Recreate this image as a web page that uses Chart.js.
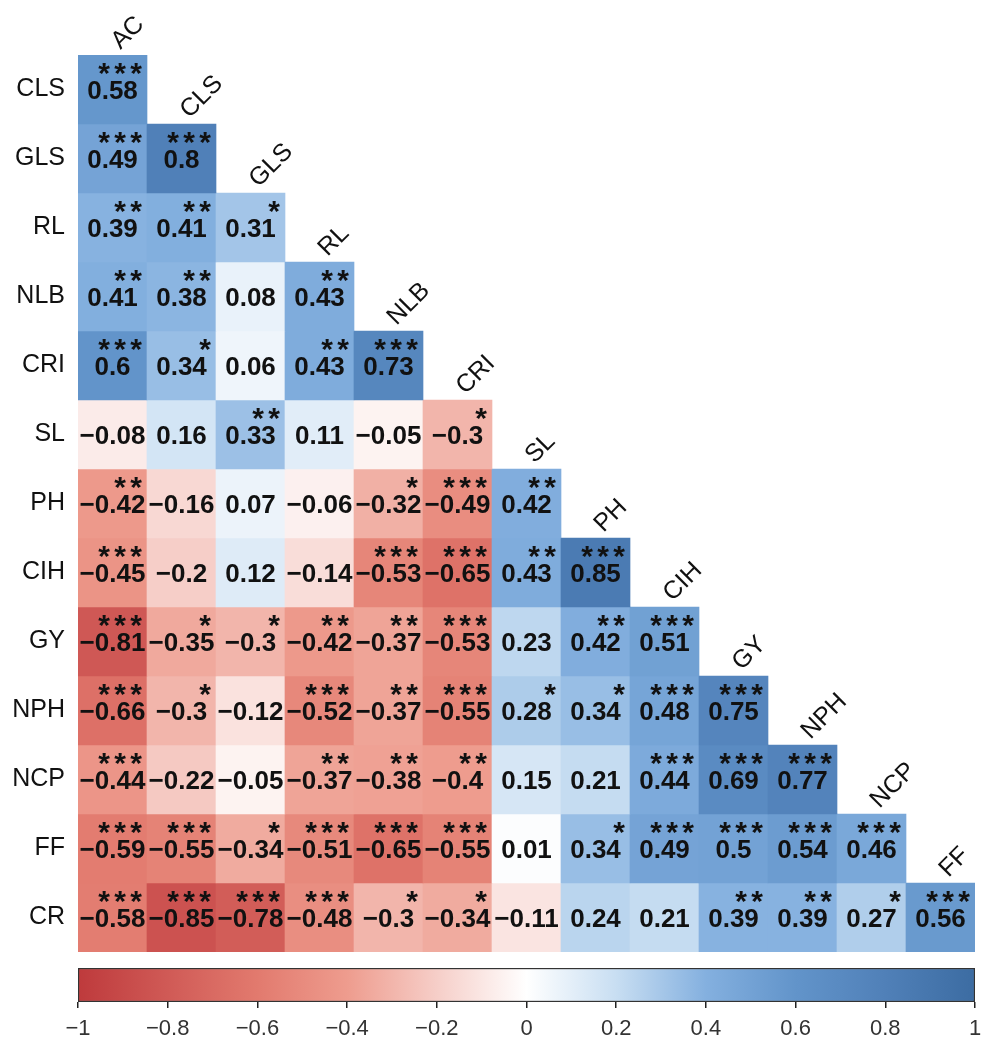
<!DOCTYPE html>
<html>
<head>
<meta charset="utf-8">
<title>Trait correlation heatmap</title>
<script src="https://cdn.jsdelivr.net/npm/chart.js@4.4.1/dist/chart.umd.min.js"></script>
<style>
  body { margin: 0; background: #fff; position: relative; }
  canvas { display: block; }
  #colorbar { position: absolute; left: 0; top: 955px; }
</style>
</head>
<body>
<canvas id="heatmap" width="982" height="1041"></canvas>
<canvas id="colorbar" width="982" height="86"></canvas>
<script>
// traits along the top (columns) and down the left side (rows)
const colLabels = ['AC', 'CLS', 'GLS', 'RL', 'NLB', 'CRI', 'SL', 'PH', 'CIH', 'GY', 'NPH', 'NCP', 'FF'];
const rowLabels = ['CLS', 'GLS', 'RL', 'NLB', 'CRI', 'SL', 'PH', 'CIH', 'GY', 'NPH', 'NCP', 'FF', 'CR'];

// lower triangle of the correlation matrix, one array per row
const corr = [
    [0.58],
    [0.49, 0.8],
    [0.39, 0.41, 0.31],
    [0.41, 0.38, 0.08, 0.43],
    [0.6, 0.34, 0.06, 0.43, 0.73],
    [-0.08, 0.16, 0.33, 0.11, -0.05, -0.3],
    [-0.42, -0.16, 0.07, -0.06, -0.32, -0.49, 0.42],
    [-0.45, -0.2, 0.12, -0.14, -0.53, -0.65, 0.43, 0.85],
    [-0.81, -0.35, -0.3, -0.42, -0.37, -0.53, 0.23, 0.42, 0.51],
    [-0.66, -0.3, -0.12, -0.52, -0.37, -0.55, 0.28, 0.34, 0.48, 0.75],
    [-0.44, -0.22, -0.05, -0.37, -0.38, -0.4, 0.15, 0.21, 0.44, 0.69, 0.77],
    [-0.59, -0.55, -0.34, -0.51, -0.65, -0.55, 0.01, 0.34, 0.49, 0.5, 0.54, 0.46],
    [-0.58, -0.85, -0.78, -0.48, -0.3, -0.34, -0.11, 0.24, 0.21, 0.39, 0.39, 0.27, 0.56]
];

// significance marks, same shape as corr
const stars = [
    ['***'],
    ['***', '***'],
    ['**', '**', '*'],
    ['**', '**', '', '**'],
    ['***', '*', '', '**', '***'],
    ['', '', '**', '', '', '*'],
    ['**', '', '', '', '*', '***', '**'],
    ['***', '', '', '', '***', '***', '**', '***'],
    ['***', '*', '*', '**', '**', '***', '', '**', '***'],
    ['***', '*', '', '***', '**', '***', '*', '*', '***', '***'],
    ['***', '', '', '**', '**', '**', '', '', '***', '***', '***'],
    ['***', '***', '*', '***', '***', '***', '', '*', '***', '***', '***', '***'],
    ['***', '***', '***', '***', '*', '*', '', '', '', '**', '**', '*', '***']
];

const colorbarTicks = [-1, -0.8, -0.6, -0.4, -0.2, 0, 0.2, 0.4, 0.6, 0.8, 1];

// red - white - blue scale
const palette = [
    [-1.0, [190, 58, 60]],
    [-0.8, [208, 90, 86]],
    [-0.6, [226, 122, 110]],
    [-0.4, [238, 156, 142]],
    [-0.2, [246, 206, 200]],
    [0.0, [255, 255, 255]],
    [0.2, [200, 222, 242]],
    [0.4, [132, 176, 223]],
    [0.6, [98, 148, 202]],
    [0.8, [80, 128, 184]],
    [1.0, [60, 108, 162]]
];

const FONT = '"Liberation Sans", Arial, Helvetica, sans-serif';

function cellColor(v) {
    for (let k = 1; k < palette.length; k++) {
        const [v1, c1] = palette[k];
        if (v <= v1) {
            const [v0, c0] = palette[k - 1];
            const t = (v - v0) / (v1 - v0);
            const c = c0.map((a, n) => Math.round(a + (c1[n] - a) * t));
            return 'rgb(' + c.join(',') + ')';
        }
    }
    return 'rgb(' + palette[palette.length - 1][1].join(',') + ')';
}

function fmt(v) {
    return (v < 0 ? '\u2212' : '') + String(Math.abs(v));
}

// numbers and stars inside each cell
const cellText = {
    id: 'cellText',
    afterDatasetsDraw(chart) {
        const ctx = chart.ctx;
        ctx.save();
        ctx.fillStyle = '#111';
        ctx.textAlign = 'center';
        corr.forEach((row, i) => {
            const meta = chart.getDatasetMeta(i);
            row.forEach((v, j) => {
                const p = meta.data[j].getProps(['x', 'y', 'base', 'width'], true);
                const top = Math.min(p.y, p.base);
                const cy = (p.y + p.base) / 2;
                const right = p.x + p.width / 2;

                ctx.font = 'bold 26px ' + FONT;
                ctx.textBaseline = 'middle';
                ctx.fillText(fmt(v), p.x, cy + 2);

                const s = stars[i][j];
                ctx.font = 'bold 30px ' + FONT;
                ctx.textBaseline = 'alphabetic';
                for (let k = 0; k < s.length; k++) {
                    ctx.fillText('*', right - 11 - (s.length - 1 - k) * 16, top + 28);
                }
            });
        });
        ctx.restore();
    }
};

// rotated column names sitting on the diagonal
const colTitles = {
    id: 'colTitles',
    afterDraw(chart) {
        const ctx = chart.ctx;
        const xs = chart.scales.x;
        const ys = chart.scales.y;
        ctx.save();
        ctx.fillStyle = '#111';
        ctx.font = '25px ' + FONT;
        ctx.textAlign = 'left';
        ctx.textBaseline = 'alphabetic';
        colLabels.forEach((lab, j) => {
            const cx = xs.getPixelForValue(j);
            const top = ys.getPixelForValue(j);
            ctx.save();
            ctx.translate(cx + 8, top - 5);
            ctx.rotate(-Math.PI / 4);
            ctx.fillText(lab, 0, 0);
            ctx.restore();
        });
        ctx.restore();
    }
};

const datasets = rowLabels.map((row, i) => ({
    label: row,
    data: colLabels.map((c, j) => (j <= i ? [i, i + 1] : null)),
    backgroundColor: corr[i].map(cellColor),
    borderWidth: 0,
    grouped: false,
    barPercentage: 1,
    categoryPercentage: 1
}));

new Chart(document.getElementById('heatmap'), {
    type: 'bar',
    data: { labels: colLabels, datasets: datasets },
    options: {
        responsive: false,
        animation: false,
        layout: { padding: { top: 55, right: 7, bottom: 89, left: 0 } },
        plugins: {
            legend: { display: false },
            tooltip: { enabled: false }
        },
        scales: {
            x: { type: 'category', display: false, offset: true },
            y: {
                type: 'linear',
                min: 0,
                max: rowLabels.length,
                reverse: true,
                grid: { display: false, drawTicks: false },
                border: { display: false },
                afterBuildTicks: axis => {
                    axis.ticks = rowLabels.map((r, i) => ({ value: i + 0.5 }));
                },
                afterFit: axis => { axis.width = 78; },
                ticks: {
                    padding: 13,
                    autoSkip: false,
                    color: '#111',
                    font: { size: 25, family: FONT },
                    callback: (value, index) => rowLabels[index]
                }
            }
        }
    },
    plugins: [cellText, colTitles]
});

function barGradient(chart) {
    const area = chart.chartArea;
    if (!area) return null;
    const g = chart.ctx.createLinearGradient(area.left, 0, area.right, 0);
    palette.forEach(([v, c]) => g.addColorStop((v + 1) / 2, 'rgb(' + c.join(',') + ')'));
    return g;
}

new Chart(document.getElementById('colorbar'), {
    type: 'bar',
    data: {
        labels: [''],
        datasets: [{
            data: [[-1, 1]],
            backgroundColor: ctx => barGradient(ctx.chart),
            borderColor: '#333',
            borderWidth: 1.5,
            borderSkipped: false,
            barPercentage: 1,
            categoryPercentage: 1
        }]
    },
    options: {
        indexAxis: 'y',
        responsive: false,
        animation: false,
        layout: { padding: { top: 13, right: 7, bottom: 0, left: 78 } },
        plugins: {
            legend: { display: false },
            tooltip: { enabled: false }
        },
        scales: {
            x: {
                type: 'linear',
                min: -1,
                max: 1,
                grid: { drawOnChartArea: false, drawTicks: true, tickLength: 6, color: '#222', lineWidth: 1.5 },
                border: { display: false },
                afterBuildTicks: axis => {
                    axis.ticks = colorbarTicks.map(v => ({ value: v }));
                },
                afterFit: axis => {
                    axis.height = 39;
                    axis.paddingLeft = 0;
                    axis.paddingRight = 0;
                },
                ticks: {
                    padding: 8,
                    autoSkip: false,
                    maxRotation: 0,
                    color: '#333',
                    font: { size: 22, family: FONT },
                    callback: (value, index) => fmt(colorbarTicks[index])
                }
            },
            y: { display: false }
        }
    }
});
</script>
</body>
</html>
